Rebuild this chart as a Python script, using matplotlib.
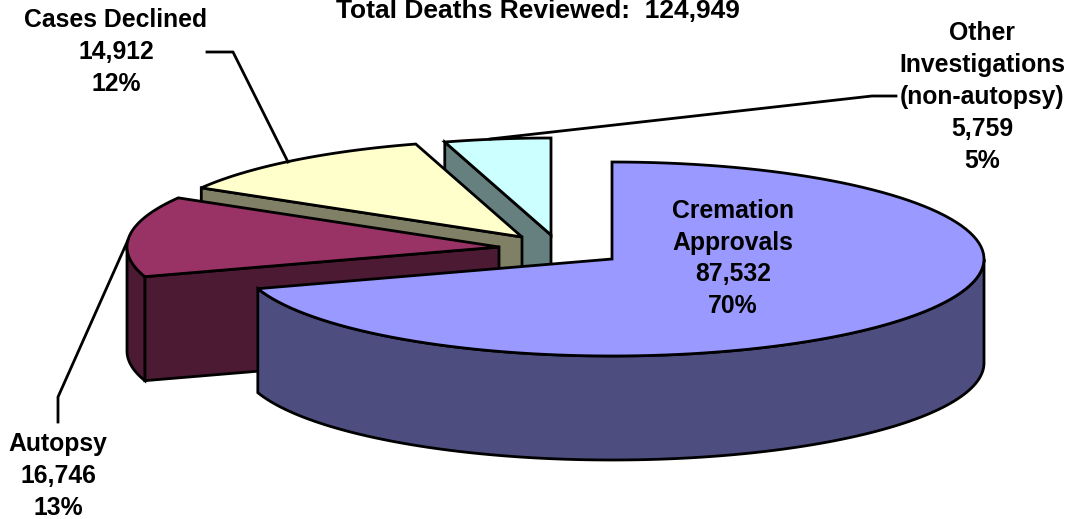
import numpy as np
import matplotlib
matplotlib.use("Agg")
import matplotlib.pyplot as plt
from matplotlib.patches import Polygon

plt.rcParams['font.family'] = ['Liberation Sans', 'DejaVu Sans']

names = ["Cremation\nApprovals", "Autopsy", "Cases Declined", "Other\nInvestigations\n(non-autopsy)"]
values = [87532, 16746, 14912, 5759]
total_reviewed = 124949
percents = [70, 13, 12, 5]

top_colors = ["#9999FF", "#993366", "#FFFFCC", "#CCFFFF"]
wall_colors = ["#4D4D80", "#4D1A33", "#808066", "#668080"]

# apex of each exploded slice, in pixels
apex = [(612, 259), (499, 247), (522, 237), (551, 235)]
label_pos = [(733, 258.5), (58, 476), (116, 52), (982, 97)]

RX, RY, DEPTH = 372, 97, 104
LW = 2


def rim(cx, cy, t1, t2, n=120):
    t = np.radians(np.linspace(t1, t2, n))
    return np.column_stack([cx + RX * np.sin(t), cy - RY * np.cos(t)])


def draw_slice(ax, i, t1, t2):
    cx, cy = apex[i]
    down = np.array([0, DEPTH])
    # cut face on the starting side
    p = rim(cx, cy, t1, t1, 1)[0]
    if t1 > 0:
        ax.add_patch(Polygon([(cx, cy), p, p + down, (cx, cy + DEPTH)],
                             fc=wall_colors[i], ec="black", lw=LW, joinstyle="miter"))
    # outer wall, only the part facing the viewer
    a, b = max(t1, 90), min(t2, 270)
    if a < b:
        edge = rim(cx, cy, a, b)
        ax.add_patch(Polygon(np.vstack([edge, edge[::-1] + down]),
                             fc=wall_colors[i], ec="black", lw=LW, joinstyle="miter"))
    top = np.vstack([[(cx, cy)], rim(cx, cy, t1, t2)])
    ax.add_patch(Polygon(top, fc=top_colors[i], ec="black", lw=LW, joinstyle="miter"))


fig = plt.figure(figsize=(10.7, 5.19), dpi=100)
ax = fig.add_axes([0, 0, 1, 1])
ax.set_xlim(0, 1070)
ax.set_ylim(519, 0)
ax.axis("off")

angles = np.cumsum([0] + values) / sum(values) * 360

# leader lines go under the slices
ax.plot([288, 233, 207], [162, 52, 52], color="black", lw=LW)
ax.plot([490, 872, 896], [139, 96, 96], color="black", lw=LW)
ax.plot([128, 58, 58], [240, 397, 422], color="black", lw=LW)

# back to front
for i in [3, 2, 1, 0]:
    draw_slice(ax, i, angles[i], angles[i + 1])

for i in range(len(values)):
    txt = "%s\n%s\n%d%%" % (names[i], format(values[i], ","), percents[i])
    ax.text(label_pos[i][0], label_pos[i][1], txt, ha="center", va="center",
            fontsize=17.8, fontweight="bold", linespacing=1.41)

ax.text(538, 10.5, "Total Deaths Reviewed:  %s" % format(total_reviewed, ","),
        ha="center", va="center", fontsize=19, fontweight="bold")

fig.savefig("out.png", dpi=100)
